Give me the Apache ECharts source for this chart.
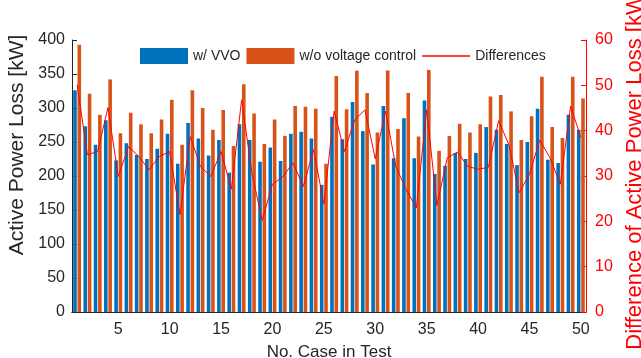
<!DOCTYPE html>
<html>
<head>
<meta charset="utf-8">
<script src="https://cdn.jsdelivr.net/npm/echarts@6/dist/echarts.min.js"></script>
<style>
  html, body { margin: 0; padding: 0; background: #fff; }
  #chart { width: 641px; height: 358px; }
</style>
</head>
<body>
<div id="chart"></div>
<script>
const cases = Array.from({ length: 50 }, (_, i) => String(i + 1));

const withVVO = [
  326, 273, 246, 282, 223, 248, 231, 225, 240, 262,
  218, 278, 255, 230, 253, 205, 276, 253, 221, 242,
  222, 262, 265, 255, 187, 287, 254, 309, 266, 217,
  303, 226, 285, 226, 311, 203, 215, 234, 225, 234,
  272, 268, 247, 216, 250, 299, 224, 219, 290, 268
];

const withoutControl = [
  393, 321, 290, 342, 263, 293, 276, 263, 283, 312,
  246, 326, 300, 268, 297, 244, 335, 292, 247, 283,
  259, 303, 302, 299, 218, 347, 298, 355, 322, 264,
  355, 269, 322, 258, 356, 237, 259, 277, 264, 276,
  317, 319, 295, 253, 288, 346, 272, 256, 346, 314
];

const differences = [
  50.1, 34.7, 35.4, 45.1, 29.9, 36.5, 34.3, 31.4, 34.3, 35.4,
  21.5, 38.7, 32.1, 29.9, 35.4, 27.1, 46.8, 30.7, 20.2, 28.2,
  29.8, 32.9, 27.7, 35.8, 23.8, 44.3, 35.4, 42.4, 44.6, 33.8,
  44.3, 32.1, 27.0, 23.0, 44.6, 23.5, 34.0, 35.3, 32.1, 31.5,
  31.9, 42.2, 36.9, 26.3, 30.4, 37.9, 34.0, 28.2, 45.4, 38.5
];

const leftTicks = [0, 400, 50];
const rightTicks = [0, 60, 10];

const chart = echarts.init(document.getElementById('chart'));

const font = 'Liberation Sans, Arial, sans-serif';
const textColor = '#262626';
const every5 = (idx) => (idx + 1) % 5 === 0;

const option = {
  animation: false,
  textStyle: { fontFamily: font },
  grid: {
    left: 72,
    right: 55,
    top: 40,
    bottom: 46,
    containLabel: false,
    outerBoundsMode: 'none'
  },
  legend: {
    left: 135,
    top: 43,
    itemWidth: 48,
    itemHeight: 16,
    itemGap: 6,
    symbolKeepAspect: true,
    textStyle: { fontSize: 14, color: textColor, fontFamily: font },
    data: [
      { name: 'w/ VVO', icon: 'rect' },
      { name: 'w/o voltage control', icon: 'rect' },
      { name: 'Differences', icon: 'path://M0,0 L48,0 L48,1.4 L0,1.4 Z' }
    ]
  },
  xAxis: [
    {
      type: 'category',
      data: cases,
      name: 'No. Case in Test',
      nameLocation: 'middle',
      nameGap: 32,
      nameTextStyle: { fontSize: 17, color: textColor },
      axisLine: { lineStyle: { color: '#262626', width: 1 } },
      axisTick: { inside: true, length: 5, alignWithLabel: true, interval: every5, lineStyle: { color: '#262626' } },
      axisLabel: { interval: every5, fontSize: 16, color: textColor, margin: 10 },
      splitLine: { show: false }
    },
    {
      type: 'category',
      data: cases,
      position: 'top',
      axisLine: { lineStyle: { color: '#262626', width: 1 } },
      axisTick: { inside: true, length: 5, alignWithLabel: true, interval: every5, lineStyle: { color: '#262626' } },
      axisLabel: { show: false },
      splitLine: { show: false }
    }
  ],
  yAxis: [
    {
      type: 'value',
      min: leftTicks[0],
      max: leftTicks[1],
      interval: leftTicks[2],
      name: 'Active Power Loss [kW]',
      nameLocation: 'middle',
      nameGap: 42,
      nameTextStyle: { fontSize: 21, color: textColor, padding: [0, 0, 0, 62] },
      axisLine: { show: true, lineStyle: { color: '#262626', width: 1 } },
      axisTick: { show: true, inside: true, length: 5, lineStyle: { color: '#262626' } },
      axisLabel: { fontSize: 16, color: textColor, margin: 7 },
      splitLine: { show: false }
    },
    {
      type: 'value',
      min: rightTicks[0],
      max: rightTicks[1],
      interval: rightTicks[2],
      position: 'right',
      name: 'Difference of Active Power Loss [kW]',
      nameLocation: 'middle',
      nameGap: 38,
      nameTextStyle: { fontSize: 22, color: '#ff0000', padding: [0, 0, 0, 14] },
      axisLine: { show: true, lineStyle: { color: '#ff0000', width: 1 } },
      axisTick: { show: true, inside: true, length: 5, lineStyle: { color: '#ff0000' } },
      axisLabel: { fontSize: 16, color: '#ff0000', margin: 9 },
      splitLine: { show: false }
    }
  ],
  series: [
    {
      name: 'w/ VVO',
      type: 'bar',
      xAxisIndex: 0,
      yAxisIndex: 0,
      barWidth: 3.6,
      barGap: '20%',
      itemStyle: { color: '#0072bd' },
      data: withVVO
    },
    {
      name: 'w/o voltage control',
      type: 'bar',
      xAxisIndex: 0,
      yAxisIndex: 0,
      barWidth: 3.6,
      barGap: '20%',
      itemStyle: { color: '#d95319' },
      data: withoutControl
    },
    {
      name: 'Differences',
      type: 'line',
      xAxisIndex: 0,
      yAxisIndex: 1,
      symbol: 'none',
      lineStyle: { color: '#ff0000', width: 1 },
      itemStyle: { color: '#ff0000' },
      data: differences,
      z: 5
    }
  ]
};

chart.setOption(option);
</script>
</body>
</html>
